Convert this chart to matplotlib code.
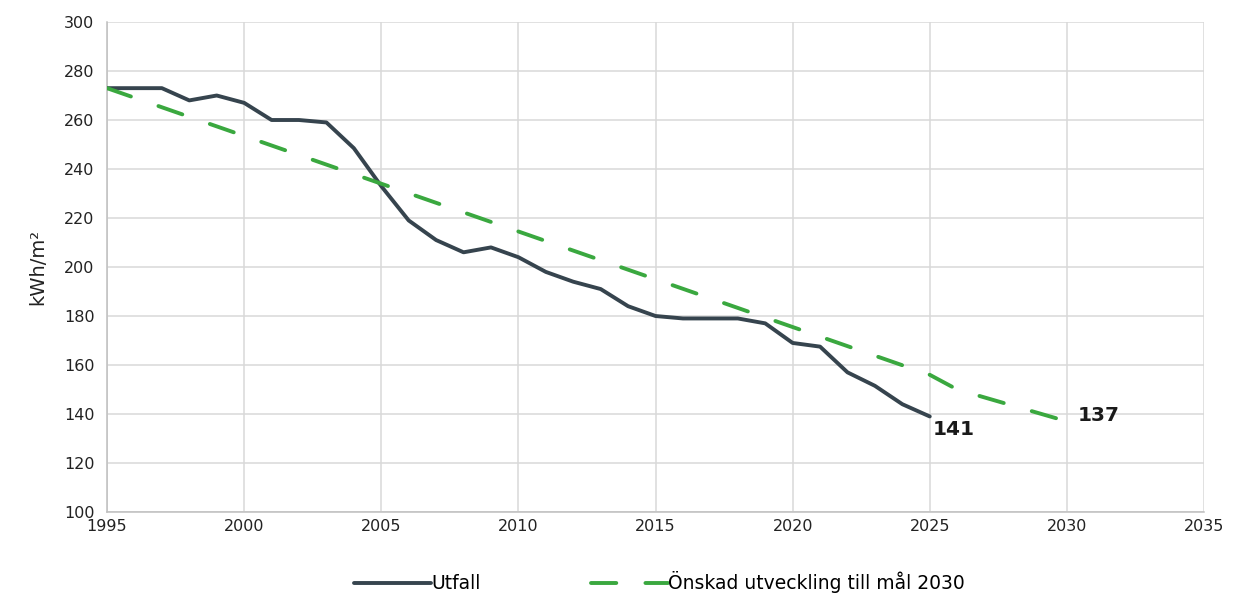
import os
import matplotlib
import matplotlib.pyplot as plt
from matplotlib import font_manager

# make sure the Verdana-like DejaVu Sans shipped with matplotlib is used
ttf_dir = os.path.join(matplotlib.get_data_path(), "fonts", "ttf")
for fn in ["DejaVuSans.ttf", "DejaVuSans-Bold.ttf"]:
    path = os.path.join(ttf_dir, fn)
    if os.path.exists(path):
        font_manager.fontManager.addfont(path)
plt.rcParams['font.family'] = ['DejaVu Sans']
plt.rcParams['font.sans-serif'] = ['DejaVu Sans']

# Utfall (actual values, kWh/m2)
years_actual = list(range(1995, 2026))
utfall = [273, 273, 273, 268, 270, 267, 260, 260, 259, 248.5,
          233, 219, 211, 206, 208, 204, 198, 194, 191, 184,
          180, 179, 179, 179, 177, 169, 167.5, 157, 151.5, 144,
          139]

# Desired trajectory towards the 2030 target
years_target = [1995, 2025, 2026, 2030]
target = [273, 156, 150, 137]

label_actual = "141"
label_target = "137"

dark = "#36444e"
green = "#3aa83f"
grid_col = "#d9d9d9"

fig = plt.figure(figsize=(12.33, 5.98), dpi=100)
ax = fig.add_axes([0.0868, 0.1438, 0.8897, 0.8194])

ax.plot(years_actual, utfall, color=dark, lw=2.8, solid_capstyle="round",
        label="Utfall", zorder=3)
ax.plot(years_target, target, color=green, lw=2.8, linestyle=(0, (6.5, 7.5)),
        dash_capstyle="round", label="Önskad utveckling till mål 2030", zorder=3)

ax.text(2025.1, 133.5, label_actual, fontsize=14.5, fontweight="bold",
        color="#1a1a1a", ha="left", va="center")
ax.text(2030.4, 139.5, label_target, fontsize=14.5, fontweight="bold",
        color="#1a1a1a", ha="left", va="center")

ax.set_xlim(1995, 2035)
ax.set_ylim(100, 300)
ax.set_xticks(range(1995, 2036, 5))
ax.set_yticks(range(100, 301, 20))
ax.tick_params(axis="both", length=0, labelsize=11.5, colors="#222222")
ax.tick_params(axis="x", pad=5)
ax.tick_params(axis="y", pad=9)

ax.grid(True, color=grid_col, lw=1.1)
ax.set_axisbelow(True)
for side in ["top", "right"]:
    ax.spines[side].set_visible(False)
for side in ["left", "bottom"]:
    ax.spines[side].set_color("#bfbfbf")
    ax.spines[side].set_linewidth(1.1)

ax.set_ylabel("kWh/m²", fontsize=14, color="#222222", labelpad=12)

fig.legend(loc="center", bbox_to_anchor=(0.535, 0.026), ncol=2, frameon=False,
           fontsize=13.5, handlelength=4.1, handletextpad=0.0, columnspacing=5.9,
           borderpad=0.2)

fig.savefig("out.png", dpi=100)
